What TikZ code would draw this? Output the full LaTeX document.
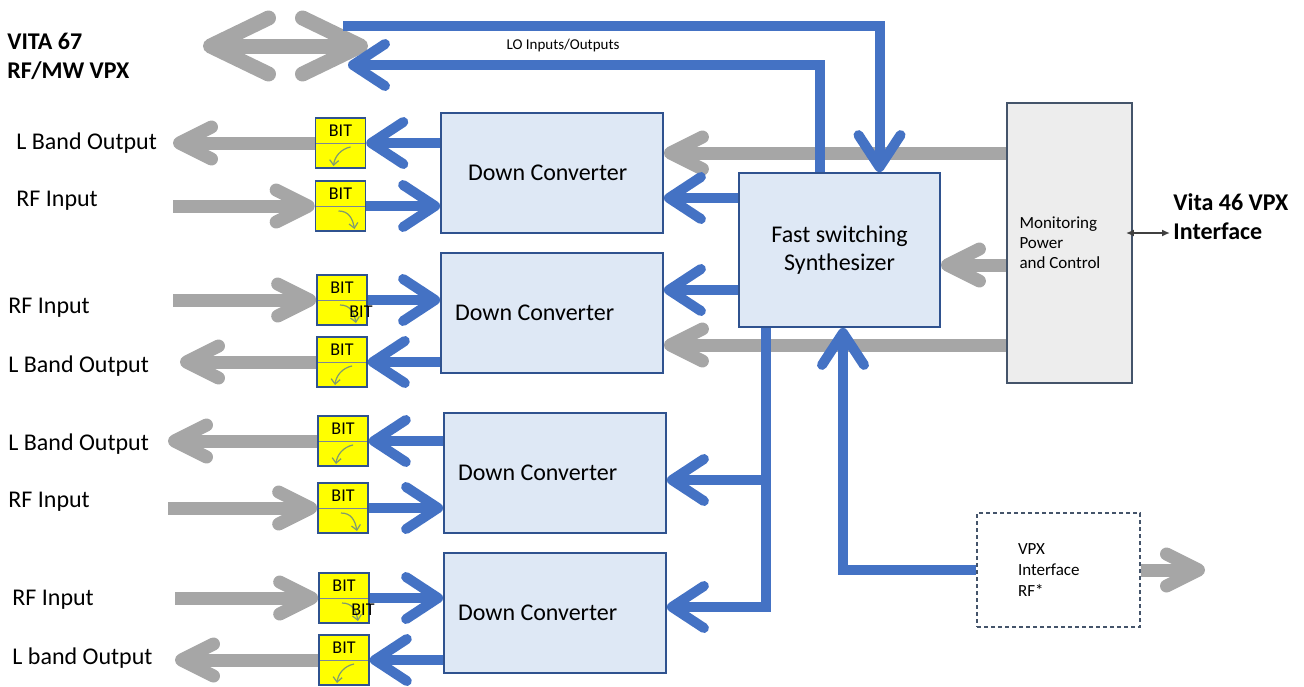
\documentclass[tikz,border=0pt]{standalone}
\usepackage{fontspec}
\setmainfont{Carlito}
\usepackage{xcolor}
\usetikzlibrary{arrows.meta,calc,positioning}
\definecolor{lineblue}{HTML}{4472C4}
\definecolor{linegray}{HTML}{A6A6A6}
\definecolor{boxblue}{HTML}{DEE8F5}
\definecolor{boxborder}{HTML}{2F528F}
\definecolor{boxgray}{HTML}{EDEDED}
\definecolor{monborder}{HTML}{44546A}
\definecolor{bityellow}{HTML}{FFFF00}
\definecolor{checkgreen}{HTML}{7F9A70}
% open V head with round ends
\pgfdeclarearrow{
	name = Chevron,
	defaults = {length = 12pt, width = 20pt, line width = +0pt 1 1},
	parameters = {\the\pgfarrowlength,\the\pgfarrowwidth,\the\pgfarrowlinewidth},
	setup code = {
		\pgfarrowssettipend{.5\pgfarrowlinewidth}
		\pgfarrowssetbackend{-\pgfarrowlength}
		\pgfarrowssetlineend{-.5\pgfarrowlinewidth}
		\pgfarrowssavethe\pgfarrowlength
		\pgfarrowssavethe\pgfarrowwidth
		\pgfarrowssavethe\pgfarrowlinewidth
	},
	drawing code = {
		\pgfsetlinewidth{\pgfarrowlinewidth}
		\pgfsetdash{}{+0pt}
		\pgfsetroundcap
		\pgfsetroundjoin
		\pgfpathmoveto{\pgfqpoint{-\pgfarrowlength}{.5\pgfarrowwidth}}
		\pgfpathlineto{\pgfpointorigin}
		\pgfpathlineto{\pgfqpoint{-\pgfarrowlength}{-.5\pgfarrowwidth}}
		\pgfusepathqstroke
	}
}
\tikzset{%
	converter/.style = {draw=boxborder, line width=0.9pt, fill=boxblue, rectangle, minimum width=111pt, minimum height=60pt, text width=97pt, align=flush left, font=\fontsize{12}{14}\selectfont},
	synth/.style     = {draw=boxborder, line width=0.9pt, fill=boxblue, rectangle, minimum width=100.5pt, minimum height=77pt, align=center, font=\fontsize{12}{14}\selectfont},
	monitor/.style   = {draw=monborder, line width=0.9pt, fill=boxgray, rectangle, minimum width=62.5pt, minimum height=140pt, text width=50pt, align=flush left, font=\fontsize{8.5}{10}\selectfont},
	vpxbox/.style    = {draw=monborder, line width=0.8pt, dash pattern=on 2pt off 1.5pt, fill=white, rectangle, minimum width=81.5pt, minimum height=57pt, text width=40.5pt, align=flush left, font=\fontsize{8.5}{10.5}\selectfont},
	bitlabel/.style  = {inner sep=0pt, font=\fontsize{9}{10}\selectfont},
	bitbox/.style    = {draw=boxborder, line width=0.8pt, fill=bityellow, rectangle, minimum width=25pt, minimum height=25pt, inner sep=0pt, label={[bitlabel, anchor=north, yshift=-3.5pt]north:BIT}},
	divider/.style   = {draw=monborder!70, line width=0.5pt},
	check/.style     = {draw=checkgreen, line width=0.6pt, -{Straight Barb[length=2.5pt,width=4.5pt]}},
	bitout/.style    = {bitbox, path picture={
		\draw[divider] (path picture bounding box.west) -- (path picture bounding box.east);
		\draw[check] ([xshift=5pt,yshift=-2pt]path picture bounding box.center) .. controls ([xshift=0pt,yshift=-3pt]path picture bounding box.center) and ([xshift=-3pt,yshift=-7pt]path picture bounding box.center) .. ([xshift=-3.5pt,yshift=-11.5pt]path picture bounding box.center);}},
	bitin/.style     = {bitbox, path picture={
		\draw[divider] (path picture bounding box.west) -- (path picture bounding box.east);
		\draw[check] ([xshift=-1pt,yshift=-2.5pt]path picture bounding box.center) .. controls ([xshift=4pt,yshift=-2.5pt]path picture bounding box.center) and ([xshift=6pt,yshift=-6pt]path picture bounding box.center) .. ([xshift=7pt,yshift=-11.5pt]path picture bounding box.center);}},
	sidelabel/.style = {anchor=west, inner sep=0pt, font=\fontsize{12}{14}\selectfont},
	biglabel/.style  = {anchor=west, inner sep=0pt, align=left, font=\bfseries\fontsize{12}{14.5}\selectfont},
	lolabel/.style   = {inner sep=0pt, font=\fontsize{7.5}{9}\selectfont},
	grayarrow/.style = {draw=linegray, line width=6.5pt, -{Chevron[length=16pt,width=16pt]}},
	graydouble/.style= {draw=linegray, line width=7.5pt, {Chevron[length=29pt,width=28pt]}-{Chevron[length=29pt,width=28pt]}},
	bluearrow/.style = {draw=lineblue, line width=5pt, -{Chevron[length=16pt,width=21pt]}},
	smallarrow/.style= {draw=darkgray, line width=0.8pt, {Latex[length=4pt,width=3.5pt]}-{Latex[length=4pt,width=3.5pt]}},
}

\begin{document}
\begin{tikzpicture}[x=0.5pt,y=-0.5pt]
	\useasboundingbox (0,0) rectangle (1304,686);
	
	% blocks
	\node[converter, text width=84pt] (dc1) at (552,173) {Down Converter};
	\node[converter] (dc2) at (552,313) {Down Converter};
	\node[converter] (dc3) at (555,473) {Down Converter};
	\node[converter] (dc4) at (555,613) {Down Converter};
	\node[synth] (synth) at (839.5,250) {Fast switching\\Synthesizer};
	\node[monitor] (monitor) at (1069.5,243) {Monitoring\\Power\\and Control};
	\node[vpxbox] (vpx) at (1058.5,570) {VPX\\Interface\\RF*};
	
	% BIT boxes
	\node[bitout] (bit1) at (340.5,143) {};
	\node[bitin]  (bit2) at (340.5,206) {};
	\node[bitin]  (bit3) at (342,300) {};
	\node[bitout] (bit4) at (342,362) {};
	\node[bitout] (bit5) at (343,441) {};
	\node[bitin]  (bit6) at (343,508) {};
	\node[bitin]  (bit7) at (344,598) {};
	\node[bitout] (bit8) at (344,660) {};
	\node[bitlabel] (bitx1) at (361,312) {BIT};
	\node[bitlabel] (bitx2) at (363,610) {BIT};
	
	% texts
	\node[biglabel] (vita67) at (7,56) {VITA 67\\RF/MW VPX};
	\node[biglabel] (vita46) at (1173,216.5) {Vita 46 VPX\\Interface};
	\node[lolabel] (lotext) at (563,45) {LO Inputs/Outputs};
	\node[sidelabel] (lbtext1) at (16,143) {L Band Output};
	\node[sidelabel] (rftext1) at (16,201) {RF Input};
	\node[sidelabel] (rftext2) at (8,308) {RF Input};
	\node[sidelabel] (lbtext2) at (8,366) {L Band Output};
	\node[sidelabel] (lbtext3) at (8,444) {L Band Output};
	\node[sidelabel] (rftext3) at (8,502) {RF Input};
	\node[sidelabel] (rftext4) at (12,600) {RF Input};
	\node[sidelabel] (lbtext4) at (12,658) {L band Output};
	
	% free ends
	\coordinate (vitaL) at (203,46);
	\coordinate (vitaR) at (368,46);
	\coordinate (lo1) at (343,26);
	\coordinate (lo2) at (348,65);
	\coordinate (lb1) at (173,143);
	\coordinate (rf1) at (173,206);
	\coordinate (rf2) at (173,300);
	\coordinate (lb2) at (180,362);
	\coordinate (lb3) at (168,441);
	\coordinate (rf3) at (168,508);
	\coordinate (rf4) at (175,598);
	\coordinate (lb4) at (175,660);
	\coordinate (vpxout) at (1205,570);
	
	% gray signals
	\draw[graydouble] (vitaL) -- (vitaR);
	\draw[grayarrow] (bit1.west) -- (lb1);
	\draw[grayarrow] (rf1) -- (bit2.west);
	\draw[grayarrow] (rf2) -- (bit3.west);
	\draw[grayarrow] (bit4.west) -- (lb2);
	\draw[grayarrow] (bit5.west) -- (lb3);
	\draw[grayarrow] (rf3) -- (bit6.west);
	\draw[grayarrow] (rf4) -- (bit7.west);
	\draw[grayarrow] (bit8.west) -- (lb4);
	\draw[grayarrow] ([yshift=45pt]monitor.west) -- ([yshift=45pt]monitor.west -| dc1.east);
	\draw[grayarrow] ([yshift=-11pt]monitor.west) -- ([yshift=-11pt]monitor.west -| synth.east);
	\draw[grayarrow] ([yshift=-51pt]monitor.west) -- ([yshift=-51pt]monitor.west -| dc2.east);
	\draw[grayarrow] (vpx.east) -- (vpxout);
	\draw[smallarrow] ([xshift=-3.5pt,yshift=5pt]monitor.east) -- ([xshift=-1.5pt,yshift=5pt]monitor.east -| vita46.west);
	
	% blue signals
	\draw[bluearrow] (lo1) -| ([xshift=20pt]synth.north);
	\draw[bluearrow] ([xshift=-10pt]synth.north) |- (lo2);
	\draw[bluearrow] (dc1.west |- bit1.east) -- (bit1.east);
	\draw[bluearrow] (bit2.east) -- (bit2.east -| dc1.west);
	\draw[bluearrow] (bit3.east) -- (bit3.east -| dc2.west);
	\draw[bluearrow] (dc2.west |- bit4.east) -- (bit4.east);
	\draw[bluearrow] (dc3.west |- bit5.east) -- (bit5.east);
	\draw[bluearrow] (bit6.east) -- (bit6.east -| dc3.west);
	\draw[bluearrow] (bit7.east) -- (bit7.east -| dc4.west);
	\draw[bluearrow] (dc4.west |- bit8.east) -- (bit8.east);
	\draw[bluearrow] ([yshift=26pt]synth.west) -- ([yshift=26pt]synth.west -| dc1.east);
	\draw[bluearrow] ([yshift=-20pt]synth.west) -- ([yshift=-20pt]synth.west -| dc2.east);
	\draw[bluearrow] ([xshift=-36.75pt]synth.south) |- ([yshift=-3.5pt]dc3.east);
	\draw[bluearrow] ([xshift=-36.75pt]synth.south) |- ([yshift=3pt]dc4.east);
	\draw[bluearrow] (vpx.west) -| ([xshift=1.75pt]synth.south);
\end{tikzpicture}
\end{document}
